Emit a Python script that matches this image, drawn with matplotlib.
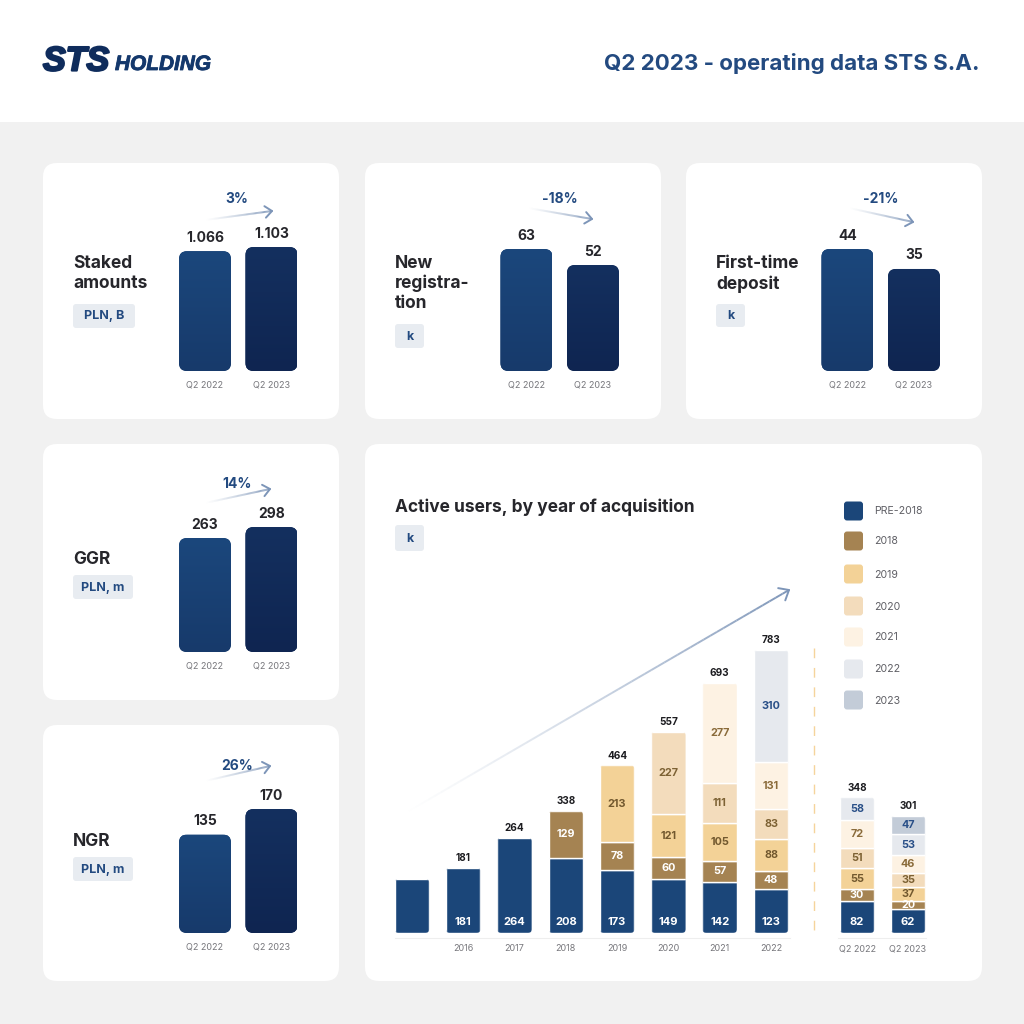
import numpy as np
import matplotlib
matplotlib.use("Agg")
import matplotlib.pyplot as plt
import matplotlib.patheffects as pe
from matplotlib.collections import LineCollection
from matplotlib.colors import to_rgb, LinearSegmentedColormap
from matplotlib.patches import FancyBboxPatch, Rectangle
from matplotlib.transforms import IdentityTransform

plt.rcParams["font.family"] = ["Inter", "DejaVu Sans"]

# small panels
quarters = ["Q2 2022", "Q2 2023"]
staked = [1.066, 1.103]
staked_labels = ["1.066", "1.103"]
new_reg = [63, 52]
first_dep = [44, 35]
ggr = [263, 298]
ngr = [135, 170]

# active users
years = ["", "2016", "2017", "2018", "2019", "2020", "2021", "2022"]
year_totals = [None, 181, 264, 338, 464, 557, 693, 783]
pre_2018 = [150, 181, 264, 208, 173, 149, 142, 123]
acq_2018 = [0, 0, 0, 129, 78, 60, 57, 48]
acq_2019 = [0, 0, 0, 0, 213, 121, 105, 88]
acq_2020 = [0, 0, 0, 0, 0, 227, 111, 83]
acq_2021 = [0, 0, 0, 0, 0, 0, 277, 131]
acq_2022 = [0, 0, 0, 0, 0, 0, 0, 310]

q2_totals = [348, 301]
q2_pre_2018 = [82, 62]
q2_2018 = [30, 20]
q2_2019 = [55, 37]
q2_2020 = [51, 35]
q2_2021 = [72, 46]
q2_2022 = [58, 53]
q2_2023 = [0, 47]

legend_names = ["PRE-2018", "2018", "2019", "2020", "2021", "2022", "2023"]
legend_y = [511, 541, 574, 606, 637, 669, 700]
seg_colors = ["#1b4679", "#a58352", "#f3d297", "#f3dcbc", "#fdf2e3", "#e6e9ee", "#c3ccd8"]
seg_text = ["white", "white", "#72592f", "#7d6234", "#8a6b3a", "#2a5088", "#2a5088"]

NAVY = "#234a80"
DARK = "#26262b"
GREY = "#77777c"

fig = plt.figure(figsize=(10.24, 10.24), dpi=100, facecolor="white")

# page layer in pixel coordinates
bg = fig.add_axes([0, 0, 1, 1])
bg.set_xlim(0, 1024)
bg.set_ylim(1024, 0)
bg.axis("off")
bg.add_patch(Rectangle((0, 122), 1024, 902, color="#f1f1f1", lw=0))


def card(x0, y0, x1, y1):
    r = 14
    bg.add_patch(FancyBboxPatch((x0 + r, y0 + r), x1 - x0 - 2 * r, y1 - y0 - 2 * r,
                                boxstyle=f"round,pad={r},rounding_size={r}",
                                fc="white", ec="none"))


def tag(x0, y0, x1, y1, label):
    r = 3
    bg.add_patch(FancyBboxPatch((x0 + r, y0 + r), x1 - x0 - 2 * r, y1 - y0 - 2 * r,
                                boxstyle=f"round,pad={r},rounding_size={r}",
                                fc="#e8ecf1", ec="none"))
    bg.text((x0 + x1) / 2, (y0 + y1) / 2 + 0.5, label, ha="center", va="center",
            fontsize=9, fontweight="bold", color=NAVY)


def fade_arrow(x0, y0, x1, y1, head=9, lw=1.4):
    t = np.linspace(0, 1, 60)
    xs = x0 + (x1 - x0) * t
    ys = y0 + (y1 - y0) * t
    pts = np.column_stack([xs, ys]).reshape(-1, 1, 2)
    segs = np.concatenate([pts[:-1], pts[1:]], axis=1)
    rgb = to_rgb("#7d95b8")
    cols = [(*rgb, a) for a in t[:-1] ** 1.3]
    bg.add_collection(LineCollection(segs, colors=cols, linewidths=lw, capstyle="butt"))
    ang = np.arctan2(y1 - y0, x1 - x0)
    for d in (np.radians(140), -np.radians(140)):
        bg.plot([x1, x1 + head * np.cos(ang + d)], [y1, y1 + head * np.sin(ang + d)],
                color="#7d95b8", lw=lw, solid_capstyle="round")


def px_axes(x0, y0, x1, y1):
    return fig.add_axes([x0 / 1024, 1 - y1 / 1024, (x1 - x0) / 1024, (y1 - y0) / 1024])


def round_clip(ax, x0, x1, y0, y1, r):
    # rounded column outline in display space so corners stay circular
    (a, b), (c, d) = ax.transData.transform([(x0, y0), (x1, y1)])
    return FancyBboxPatch((a + r, b + r), c - a - 2 * r, d - b - 2 * r,
                          boxstyle=f"round,pad={r},rounding_size={r}",
                          transform=IdentityTransform(), fc="none", ec="none")


for box in [(43, 163, 339, 419), (365, 163, 661, 419), (686, 163, 982, 419),
            (43, 444, 339, 700), (43, 725, 339, 981), (365, 444, 982, 981)]:
    card(*box)

# header
bg.text(43, 62, "STS", fontsize=24.5, fontweight="bold", style="italic", color="#0f2c5c",
        family="Liberation Sans", ha="left", va="center",
        path_effects=[pe.withStroke(linewidth=1.6, foreground="#0f2c5c")])
bg.text(115, 64.5, "HOLDING", fontsize=15, fontweight="bold", style="italic", color="#14386c",
        family="Liberation Sans", ha="left", va="center",
        path_effects=[pe.withStroke(linewidth=0.6, foreground="#14386c")])
bg.text(980, 64, "Q2 2023 - operating data STS S.A.", fontsize=16.1, fontweight="bold",
        color="#234a80", ha="right", va="center")

grad_a = LinearSegmentedColormap.from_list("a", ["#1b477c", "#173a6b"])
grad_b = LinearSegmentedColormap.from_list("b", ["#14305f", "#0f2551"])


def small_panel(x_off, bottom_px, values, base, scale, labels=None):
    height_px = 140
    ax = px_axes(172 + x_off, bottom_px - height_px, 304 + x_off, bottom_px)
    ax.set_xlim(-0.496, 1.489)
    ax.set_ylim(base, base + height_px / scale)
    w = 52 / 66.5
    for i, (v, cmap) in enumerate(zip(values, [grad_a, grad_b])):
        bar = ax.bar(i, v - base, width=w, bottom=base, color=cmap(0.5), zorder=2)[0]
        clip = round_clip(ax, i - w / 2, i + w / 2, base, v, 8)
        ax.add_patch(clip)
        bar.set_clip_path(clip)
        img = ax.imshow(np.linspace(0, 1, 64).reshape(-1, 1), cmap=cmap, aspect="auto",
                        extent=(i - w / 2, i + w / 2, base, v), origin="upper", zorder=3)
        img.set_clip_path(clip)
        txt = labels[i] if labels else str(v)
        ax.annotate(txt, (i, v), xytext=(0, 13.5 * 0.72), textcoords="offset points",
                    ha="center", va="center", fontsize=10, fontweight="bold",
                    color=DARK, annotation_clip=False)
    ax.set_xlim(-0.496, 1.489)
    ax.set_ylim(base, base + height_px / scale)
    ax.set_xticks([0, 1], quarters)
    ax.tick_params(axis="x", length=0, pad=7, labelsize=6.5, labelcolor=GREY)
    ax.set_yticks([])
    for s in ax.spines.values():
        s.set_visible(False)
    ax.patch.set_alpha(0)
    return ax


small_panel(0, 371, staked, 0, 112.4, staked_labels)
small_panel(321.5, 371, new_reg, -21, 1.452)
small_panel(642.5, 371, first_dep, -11, 2.218)
small_panel(0, 652, ggr, -100, 0.314)
small_panel(0, 933, ngr, 0, 0.729)

# panel headings
heading = dict(fontsize=12.5, fontweight="bold", color=DARK, ha="left", va="center")
bg.text(73, 264, "Staked", **heading)
bg.text(73, 284, "amounts", **heading)
bg.text(395, 263, "New", **heading)
bg.text(395, 283, "registra-", **heading)
bg.text(395, 304, "tion", **heading)
bg.text(716, 264, "First-time", **heading)
bg.text(716, 284, "deposit", **heading)
bg.text(73, 559, "GGR", **heading)
bg.text(73, 841, "NGR", **heading)
bg.text(395, 507, "Active users, by year of acquisition", **heading)

tag(73, 304, 135, 328, "PLN, B")
tag(395, 324, 424, 348, "k")
tag(716, 304, 745, 327, "k")
tag(73, 575, 133, 599, "PLN, m")
tag(73, 857, 133, 881, "PLN, m")
tag(395, 525, 424, 551, "k")

# change arrows
pct = dict(fontsize=10, fontweight="bold", color=NAVY, ha="center", va="center")
bg.text(237, 199, "3%", **pct)
bg.text(560, 199, "-18%", **pct)
bg.text(881, 199, "-21%", **pct)
bg.text(237, 484, "14%", **pct)
bg.text(237, 766, "26%", **pct)
fade_arrow(205, 220, 272, 211)
fade_arrow(528, 208, 592, 219)
fade_arrow(849, 208, 913, 222)
fade_arrow(205, 503, 270, 489)
fade_arrow(205, 781, 270, 766)
fade_arrow(402, 815, 789, 590, head=11)


def stacked(ax, xs, series, totals, w):
    for i in xs:
        vals = [s[i] for s in series]
        total = sum(vals)
        clip = round_clip(ax, i - w / 2, i + w / 2, 0, total, 4)
        ax.add_patch(clip)
        bottom = 0
        for k, v in enumerate(vals):
            if v == 0:
                continue
            b = ax.bar(i, v, width=w, bottom=bottom, color=seg_colors[k],
                       edgecolor="white", linewidth=1.0, zorder=2)[0]
            b.set_clip_path(clip)
            # pre-2018 labels sit at the foot of the bar
            if k == 0:
                if totals[i] is not None:
                    ax.annotate(str(v), (i, 0), xytext=(0, 8), textcoords="offset points",
                                ha="center", va="center", fontsize=8, fontweight="bold",
                                color="white", zorder=3)
            else:
                ax.text(i, bottom + v / 2, str(v), ha="center", va="center", fontsize=7.8,
                        fontweight="bold", color=seg_text[k], zorder=3)
            bottom += v
        if totals[i] is not None:
            ax.annotate(str(totals[i]), (i, total), xytext=(0, 7), textcoords="offset points",
                        ha="center", va="center", fontsize=7.2, fontweight="bold",
                        color="#1c1c20", annotation_clip=False)


def style_axis(ax, labels):
    ax.set_xticks(range(len(labels)), labels)
    ax.tick_params(axis="x", length=0, pad=4.5, labelsize=6.5, labelcolor=GREY)
    ax.set_yticks([])
    for name, s in ax.spines.items():
        s.set_visible(name == "bottom")
    ax.spines["bottom"].set_color("#eeeeee")
    ax.spines["bottom"].set_position(("outward", 3.6))
    ax.patch.set_alpha(0)


# active users chart
main_ax = px_axes(395, 620, 790, 933)
main_ax.set_xlim(-0.33, 7.37)
main_ax.set_ylim(0, 313 / 0.3615)
year_series = [pre_2018, acq_2018, acq_2019, acq_2020, acq_2021, acq_2022]
stacked(main_ax, range(len(years)), year_series, year_totals, 34.5 / 51.3)
style_axis(main_ax, years)

q2_ax = px_axes(838, 620, 926, 933)
q2_ax.set_xlim(-0.373, 1.353)
q2_ax.set_ylim(0, 313 / 0.39)
q2_series = [q2_pre_2018, q2_2018, q2_2019, q2_2020, q2_2021, q2_2022, q2_2023]
stacked(q2_ax, range(len(quarters)), q2_series, q2_totals, 34.5 / 51.0)
style_axis(q2_ax, quarters)

# divider
bg.plot([814, 814], [648, 939], color="#f5d49b", lw=1.0, dashes=(7, 7))

# legend
for name, color, y in zip(legend_names, seg_colors, legend_y):
    r = 3
    bg.add_patch(FancyBboxPatch((844 + r, y - 9.5 + r), 19 - 2 * r, 19 - 2 * r,
                                boxstyle=f"round,pad={r},rounding_size={r}",
                                fc=color, ec="none"))
    bg.text(874, y + 0.5, name, fontsize=7.6, color="#5f5f65", ha="left", va="center")

fig.savefig("out.png", dpi=100)
